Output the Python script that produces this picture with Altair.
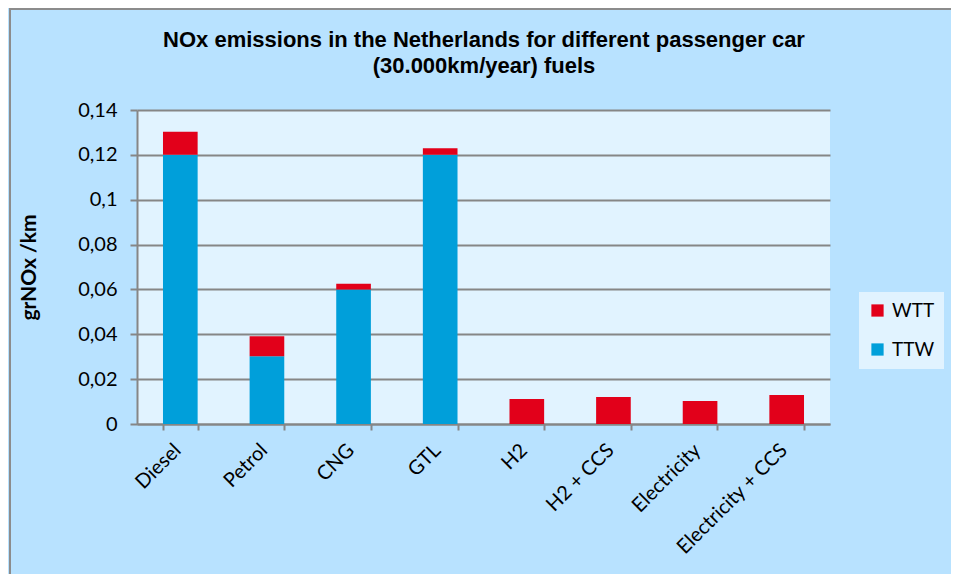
import altair as alt
import pandas as pd

categories = ["Diesel", "Petrol", "CNG", "GTL", "H2", "H2 + CCS", "Electricity", "Electricity + CCS"]
ttw = [0.120, 0.0302, 0.060, 0.120, 0.0, 0.0, 0.0, 0.0]
wtt = [0.0103, 0.0089, 0.0025, 0.0030, 0.0111, 0.0120, 0.0102, 0.0129]
y_ticks = [0, 0.02, 0.04, 0.06, 0.08, 0.10, 0.12, 0.14]
series = ["WTT", "TTW"]
colors = ["#E2001A", "#009FDA"]
title_lines = ["NOx emissions in the Netherlands for different passenger car",
               "(30.000km/year) fuels"]

rows = []
for c, t, w in zip(categories, ttw, wtt):
    rows.append({"fuel": c, "series": "TTW", "value": t, "ord": 0})
    rows.append({"fuel": c, "series": "WTT", "value": w, "ord": 1})
df = pd.DataFrame(rows)

FONT = "Lato"
one = pd.DataFrame({"a": [0]})

border = alt.Chart(one).mark_rect(
    fillOpacity=0, stroke="#8C8C8C", strokeWidth=2
).encode(x=alt.value(-127), x2=alt.value(1100), y=alt.value(-101), y2=alt.value(1000))

title = alt.Chart(one).mark_text(
    text=title_lines, font="Liberation Sans", fontSize=22, fontWeight="bold",
    color="#000000", align="center", baseline="top", lineHeight=26
).encode(x=alt.value(347), y=alt.value(-80))

bars = alt.Chart(df).mark_bar().encode(
    x=alt.X("fuel:N", sort=categories,
            scale=alt.Scale(paddingInner=0.6, paddingOuter=0.3),
            axis=alt.Axis(title=None, labelAngle=-45, labelFontSize=20, labelFont=FONT,
                          labelColor="#000000", labelAlign="right", labelBaseline="bottom",
                          tickBand="extent", tickColor="#868686",
                          tickWidth=2, tickSize=6, domainColor="#868686", domainWidth=2,
                          labelPadding=24, labelOffset=4)),
    y=alt.Y("value:Q", stack="zero",
            scale=alt.Scale(domain=[0, 0.14], nice=False),
            axis=alt.Axis(title="grNOx /km", values=y_ticks,
                          labelExpr="replace(format(datum.value, '.2~f'), '.', ',')",
                          labelFontSize=20, labelFont=FONT, labelColor="#000000",
                          labelPadding=13,
                          titleFont=FONT, titleFontSize=21, titleFontWeight="bold",
                          titleColor="#000000", titlePadding=38,
                          grid=True, gridColor="#868686", gridWidth=2,
                          tickColor="#868686", tickWidth=2, tickSize=7,
                          domainColor="#868686", domainWidth=2)),
    color=alt.Color("series:N", scale=alt.Scale(domain=series, range=colors),
                    legend=alt.Legend(title=None, orient="none", legendX=722, legendY=182,
                                      fillColor="#E1F3FF", padding=9, symbolType="square",
                                      symbolSize=150, symbolStrokeWidth=0,
                                      labelFontSize=19, labelFont=FONT, labelColor="#000000",
                                      rowPadding=19, labelOffset=5)),
    order=alt.Order("ord:Q"),
)

chart = alt.layer(border, bars, title).properties(
    width=693, height=314,
    autosize=alt.AutoSizeParams(type="none"),
    padding={"left": 129, "top": 102, "right": 121, "bottom": 150},
    background="#B8E2FF",
).configure_view(fill="#E1F3FF", stroke=None)

chart.save("out.html", embed_options={"renderer": "svg", "actions": False})
